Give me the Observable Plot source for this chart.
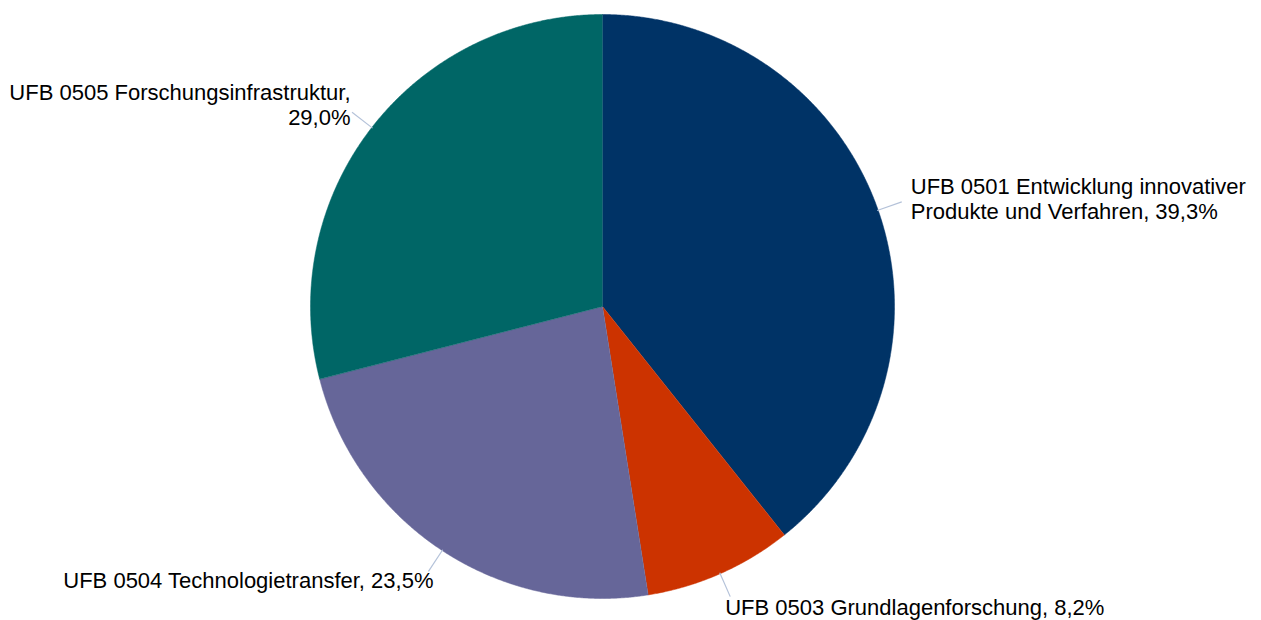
<!DOCTYPE html>
<html>
<head>
<meta charset="utf-8">
<script src="https://cdn.jsdelivr.net/npm/d3@7"></script>
<script src="https://cdn.jsdelivr.net/npm/@observablehq/plot@0.6"></script>
<style>
  html, body { margin: 0; padding: 0; background: #fff; }
  #chart { width: 1261px; height: 620px; }
</style>
</head>
<body>
<div id="chart"></div>
<script>
// ---- data ----
const categories = [
  "UFB 0501 Entwicklung innovativer\nProdukte und Verfahren, 39,3%",
  "UFB 0503 Grundlagenforschung, 8,2%",
  "UFB 0504 Technologietransfer, 23,5%",
  "UFB 0505 Forschungsinfrastruktur,\n29,0%"
];
const shares = [39.3, 8.2, 23.5, 29.0];
const colors = ["#003366", "#CC3300", "#666699", "#006666"];

// ---- layout (style) ----
const W = 1261, H = 620;
const CX = 602, CY = 306, R = 292;     // pie centre & radius in pixels
const leaderOut = 25;
const labelStyle = [
  {dx: 9, dy: -3, anchor: "start"},
  {dx: -5, dy: 10, anchor: "start"},
  {dx: 5, dy: 9, anchor: "end"},
  {dx: -1.5, dy: -8, anchor: "end"}
];

// angles clockwise from 12 o'clock
const total = d3.sum(shares);
let acc = 0;
const slices = shares.map((v, i) => {
  const a0 = acc / total * 2 * Math.PI;
  acc += v;
  const a1 = acc / total * 2 * Math.PI;
  return {i, key: categories[i], a0, a1, mid: (a0 + a1) / 2};
});
const pt = (a, r) => [Math.sin(a) * r, -Math.cos(a) * r];

// polygon vertices for each slice (centre + arc)
const polyPts = [];
for (const s of slices) {
  polyPts.push({key: s.key, x: 0, y: 0});
  const n = Math.max(2, Math.ceil((s.a1 - s.a0) / (Math.PI / 720)));
  for (let k = 0; k <= n; k++) {
    const a = s.a0 + (s.a1 - s.a0) * k / n;
    const [x, y] = pt(a, R);
    polyPts.push({key: s.key, x, y});
  }
}

const leaders = slices.map(s => {
  const [x1, y1] = pt(s.mid, R - 1);
  const [x2, y2] = pt(s.mid, R + leaderOut);
  return {x1, y1, x2, y2};
});
const labels = slices.map(s => {
  const [x, y] = pt(s.mid, R + leaderOut);
  return {x, y, text: s.key, ...labelStyle[s.i]};
});

const chart = Plot.plot({
  width: W, height: H,
  margin: 0,
  x: {domain: [-CX, W - CX], range: [0, W], axis: null},
  y: {domain: [-CY, H - CY], range: [0, H], axis: null},
  color: {domain: categories, range: colors},
  style: {fontFamily: "Arial, 'Liberation Sans', sans-serif", background: "#fff"},
  marks: [
    Plot.line(polyPts, {x: "x", y: "y", z: "key", fill: "key", stroke: "key", strokeWidth: 0.5, curve: "linear"}),
    Plot.link(leaders, {x1: "x1", y1: "y1", x2: "x2", y2: "y2", stroke: "#B4C2D9", strokeWidth: 1.2}),
    ...labels.map(l => Plot.text([l], {
      x: "x", y: "y", text: "text",
      dx: l.dx, dy: l.dy,
      textAnchor: l.anchor, lineAnchor: "middle",
      fontSize: 22, lineHeight: 1.14, fill: "#000",
      fontFamily: "Arial"
    }))
  ]
});
document.getElementById("chart").appendChild(chart);
</script>
</body>
</html>
